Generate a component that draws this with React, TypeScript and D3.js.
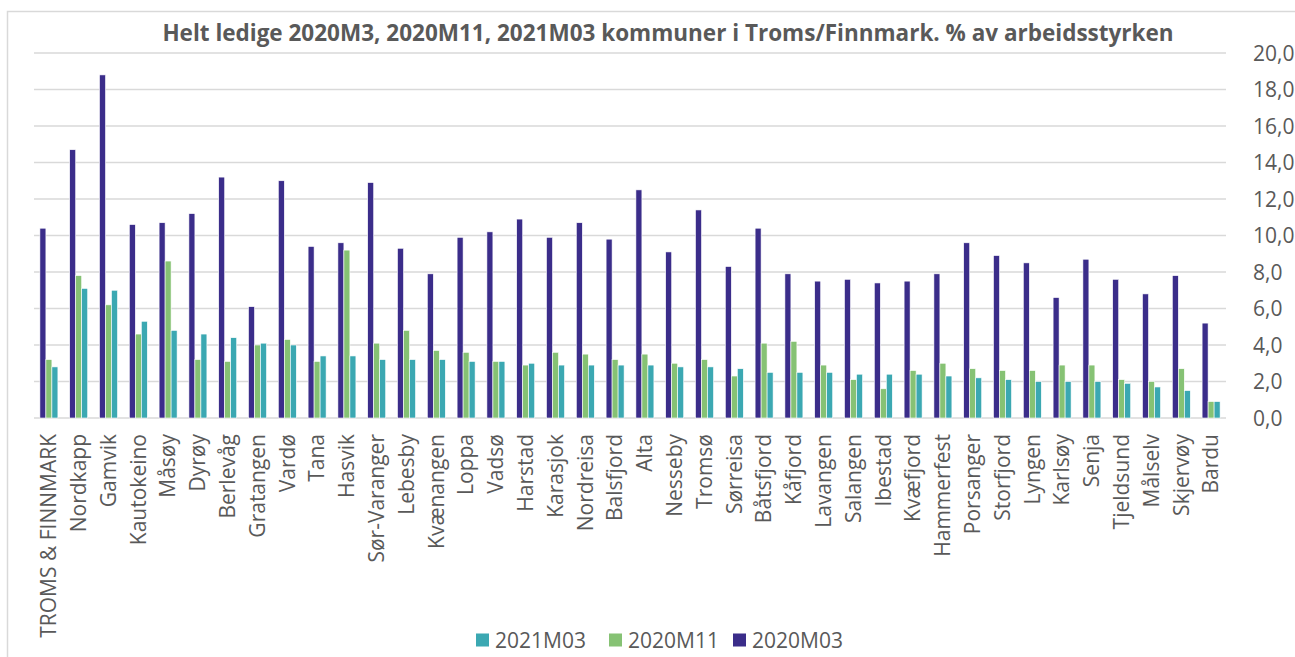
import React from 'react';
import * as d3 from 'd3';

const kommuner = [
    'TROMS & FINNMARK', 'Nordkapp', 'Gamvik', 'Kautokeino', 'Måsøy', 'Dyrøy', 'Berlevåg', 'Gratangen',
    'Vardø', 'Tana', 'Hasvik', 'Sør-Varanger', 'Lebesby', 'Kvænangen', 'Loppa', 'Vadsø', 'Harstad',
    'Karasjok', 'Nordreisa', 'Balsfjord', 'Alta', 'Nesseby', 'Tromsø', 'Sørreisa', 'Båtsfjord', 'Kåfjord',
    'Lavangen', 'Salangen', 'Ibestad', 'Kvæfjord', 'Hammerfest', 'Porsanger', 'Storfjord', 'Lyngen',
    'Karlsøy', 'Senja', 'Tjeldsund', 'Målselv', 'Skjervøy', 'Bardu',
];

const m2020M03 = [
    10.4, 14.7, 18.8, 10.6, 10.7, 11.2, 13.2, 6.1, 13.0, 9.4, 9.6, 12.9, 9.3, 7.9, 9.9, 10.2, 10.9,
    9.9, 10.7, 9.8, 12.5, 9.1, 11.4, 8.3, 10.4, 7.9, 7.5, 7.6, 7.4, 7.5, 7.9, 9.6, 8.9, 8.5,
    6.6, 8.7, 7.6, 6.8, 7.8, 5.2,
];
const m2020M11 = [
    3.2, 7.8, 6.2, 4.6, 8.6, 3.2, 3.1, 4.0, 4.3, 3.1, 9.2, 4.1, 4.8, 3.7, 3.6, 3.1, 2.9,
    3.6, 3.5, 3.2, 3.5, 3.0, 3.2, 2.3, 4.1, 4.2, 2.9, 2.1, 1.6, 2.6, 3.0, 2.7, 2.6, 2.6,
    2.9, 2.9, 2.1, 2.0, 2.7, 0.9,
];
const m2021M03 = [
    2.8, 7.1, 7.0, 5.3, 4.8, 4.6, 4.4, 4.1, 4.0, 3.4, 3.4, 3.2, 3.2, 3.2, 3.1, 3.1, 3.0,
    2.9, 2.9, 2.9, 2.9, 2.8, 2.8, 2.7, 2.5, 2.5, 2.5, 2.4, 2.4, 2.4, 2.3, 2.2, 2.1, 2.0,
    2.0, 2.0, 1.9, 1.7, 1.5, 0.9,
];

const seriesNames = ['2020M03', '2020M11', '2021M03'];
const seriesColors = ['#3b2d8a', '#86c274', '#3ba8b2'];
const legendOrder = ['2021M03', '2020M11', '2020M03'];
const yTicks = [0, 2, 4, 6, 8, 10, 12, 14, 16, 18, 20];

const title = 'Helt ledige 2020M3, 2020M11, 2021M03 kommuner i Troms/Finnmark. % av arbeidsstyrken';

const W = 1295;
const H = 657;
const font = '"Open Sans", "Noto Sans", sans-serif';
const textGray = '#595959';

export default function App() {
    const series = [m2020M03, m2020M11, m2021M03];

    const x = d3.scaleBand<string>().domain(kommuner).range([34, 1226]);
    const inner = d3.scaleBand<string>().domain(seriesNames).range([-9, 9]);
    const y = d3.scaleLinear().domain([0, 20]).range([418, 53]);

    return (
        <svg width={W} height={H} style={{ position: 'absolute', left: 0, top: 0, background: '#fff' }}
            fontFamily={font}>
            <rect x={7.5} y={11.5} width={W} height={H} fill="#fff" stroke="#d9d9d9" strokeWidth={1.5} />

            <text x={668} y={41} textAnchor="middle" fontSize={22.5} fontWeight="bold" fill={textGray}>{title}</text>

            {/* grid */}
            {yTicks.map(t => (
                <line key={t} x1={34} x2={1226} y1={y(t)} y2={y(t)} stroke="#d9d9d9" strokeWidth={1.5} />
            ))}

            {/* y labels right */}
            {yTicks.map(t => (
                <text key={t} x={1253} y={y(t)} dy="0.36em" fontSize={21} fill={textGray}>
                    {d3.format('.1f')(t).replace('.', ',')}
                </text>
            ))}

            {/* bars */}
            {kommuner.map((k, i) => {
                const cx = x(k)! + x.bandwidth() / 2;
                return (
                    <g key={k}>
                        {seriesNames.map((s, j) => (
                            <rect key={s}
                                x={cx + inner(s)!}
                                y={y(series[j][i])}
                                width={inner.bandwidth()}
                                height={y(0) - y(series[j][i])}
                                fill={seriesColors[j]}
                                stroke="#fff" strokeWidth={0.6} />
                        ))}
                    </g>
                );
            })}

            {/* category labels */}
            {kommuner.map(k => {
                const cx = x(k)! + x.bandwidth() / 2;
                return (
                    <text key={k} transform={`translate(${cx},434) rotate(-90)`} textAnchor="end" dy="0.35em"
                        fontSize={21} fill={textGray}>{k}</text>
                );
            })}

            {/* legend */}
            {legendOrder.map((s, i) => {
                const lx = [476, 609, 733][i];
                const j = seriesNames.indexOf(s);
                return (
                    <g key={s} transform={`translate(${lx},640)`}>
                        <rect x={0} y={-6.5} width={13} height={13} fill={seriesColors[j]} />
                        <text x={19} y={0} dy="0.36em" fontSize={21} fill={textGray}>{s}</text>
                    </g>
                );
            })}
        </svg>
    );
}
